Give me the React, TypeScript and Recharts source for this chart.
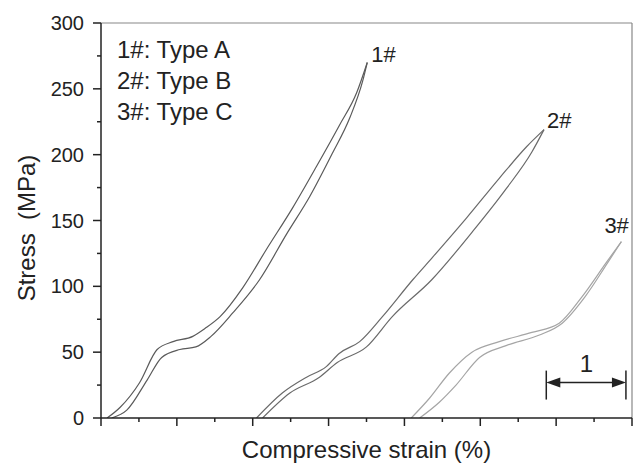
import React from "react";
import { LineChart, Line, XAxis, YAxis, ReferenceLine, ReferenceDot, Label } from "recharts";

// strain (%) , stress (MPa) pairs
const type1Upper = [[0.08, 0], [0.25, 8], [0.51, 27], [0.74, 52], [0.95, 58], [1.21, 62], [1.37, 68], [1.57, 77], [1.87, 99], [2.18, 128], [2.53, 160], [2.84, 191], [3.14, 222], [3.37, 247], [3.51, 270]];
const type1Lower = [[0.14, 0], [0.34, 6], [0.61, 29], [0.8, 46], [1.04, 52], [1.25, 54], [1.45, 62], [1.74, 80], [2.09, 105], [2.45, 140], [2.75, 168], [3.05, 201], [3.28, 228], [3.45, 256], [3.51, 270]];
const type2Upper = [[2.05, 0], [2.39, 19], [2.71, 31], [2.97, 39], [3.14, 49], [3.41, 58], [3.71, 77], [4.11, 105], [4.37, 122], [4.82, 152], [5.25, 182], [5.61, 206], [5.84, 219]];
const type2Lower = [[2.13, 0], [2.49, 19], [2.88, 31], [3.11, 42], [3.5, 54], [3.84, 77], [4.36, 105], [4.89, 141], [5.34, 174], [5.68, 202], [5.84, 219]];
const type3Upper = [[4.09, 0], [4.33, 15], [4.59, 34], [4.89, 50], [5.25, 58], [5.68, 65], [6.04, 72], [6.34, 92], [6.66, 118], [6.86, 134]];
const type3Lower = [[4.2, 0], [4.46, 12], [4.68, 25], [4.99, 46], [5.34, 55], [5.78, 63], [6.08, 72], [6.38, 92], [6.68, 118], [6.86, 134]];

const curveNames = ["1#", "2#", "3#"];
const legendLines = ["1#: Type A", "2#: Type B", "3#: Type C"];
const xTicks = [0, 0.5, 1, 1.5, 2, 2.5, 3, 3.5, 4, 4.5, 5, 5.5, 6, 6.5, 7];
const yTicks = [0, 25, 50, 75, 100, 125, 150, 175, 200, 225, 250, 275, 300];

const toRows = (pts: number[][]) => pts.map(([x, y]) => ({ x, y }));

const FONT = "'Liberation Sans', Arial, Helvetica, sans-serif";
const INK = "#222";

const XTick = (props: any) => {
  const { x, y, payload } = props;
  const major = Number.isInteger(payload.value);
  return <line x1={x} y1={y} x2={x} y2={y + (major ? 8 : 4)} stroke={INK} strokeWidth={1.5} />;
};

const YTick = (props: any) => {
  const { x, y, payload } = props;
  const major = payload.value % 50 === 0;
  return (
    <g>
      <line x1={x - (major ? 8 : 4)} y1={y} x2={x} y2={y} stroke={INK} strokeWidth={1.5} />
      {major && (
        <text x={x - 17} y={y} dy="0.35em" textAnchor="end" fontSize={20} fill={INK} fontFamily={FONT}>
          {payload.value}
        </text>
      )}
    </g>
  );
};

const Arrow = (props: any) => {
  const { x1, y1, x2, y2 } = props;
  const len = 14;
  const hw = 5;
  return (
    <g>
      <line x1={x1 + len - 2} y1={y1} x2={x2 - len + 2} y2={y2} stroke={INK} strokeWidth={1.5} />
      <polygon points={`${x1},${y1} ${x1 + len},${y1 - hw} ${x1 + len},${y1 + hw}`} fill={INK} />
      <polygon points={`${x2},${y2} ${x2 - len},${y2 - hw} ${x2 - len},${y2 + hw}`} fill={INK} />
    </g>
  );
};

const textDot = (txt: string, dx: number, dy: number, size: number) => (p: any) => (
  <text x={p.cx + dx} y={p.cy + dy} fontSize={size} fill={INK} fontFamily={FONT}>
    {txt}
  </text>
);

export default function App() {
  return (
    <div style={{ position: "absolute", left: 0, top: 0, width: 637, height: 464, background: "#fff" }}>
      <LineChart width={637} height={464} margin={{ top: 23, right: 5, left: 0, bottom: 0 }}>
        <XAxis
          dataKey="x"
          type="number"
          domain={[0, 7]}
          ticks={xTicks}
          interval={0}
          height={46}
          tickSize={0}
          tickMargin={0}
          tickLine={false}
          tick={<XTick />}
          axisLine={{ stroke: INK, strokeWidth: 1.5 }}
          allowDataOverflow
        >
          <Label value="Compressive strain (%)" position="insideBottom" offset={6} fontSize={24} fill={INK} fontFamily={FONT} />
        </XAxis>
        <YAxis
          type="number"
          domain={[0, 300]}
          ticks={yTicks}
          interval={0}
          width={101}
          tickSize={0}
          tickMargin={0}
          tickLine={false}
          tick={<YTick />}
          axisLine={{ stroke: INK, strokeWidth: 1.5 }}
          allowDataOverflow
        >
          <Label
            content={() => (
              <text transform="translate(27,228) rotate(-90)" textAnchor="middle" dy="0.35em" fontSize={24} fill={INK} fontFamily={FONT}>
                {"Stress\u00a0\u00a0(MPa)"}
              </text>
            )}
          />
        </YAxis>
        <ReferenceLine y={300} stroke="#888" strokeWidth={1.2} />
        <ReferenceLine x={7} stroke="#888" strokeWidth={1.2} />

        <Line data={toRows(type1Upper)} dataKey="y" type="monotone" stroke="#5a5a5a" strokeWidth={1.2} dot={false} activeDot={false} isAnimationActive={false} />
        <Line data={toRows(type1Lower)} dataKey="y" type="monotone" stroke="#5a5a5a" strokeWidth={1.2} dot={false} activeDot={false} isAnimationActive={false} />
        <Line data={toRows(type2Upper)} dataKey="y" type="monotone" stroke="#6a6a6a" strokeWidth={1.2} dot={false} activeDot={false} isAnimationActive={false} />
        <Line data={toRows(type2Lower)} dataKey="y" type="monotone" stroke="#6a6a6a" strokeWidth={1.2} dot={false} activeDot={false} isAnimationActive={false} />
        <Line data={toRows(type3Upper)} dataKey="y" type="monotone" stroke="#a5a5a5" strokeWidth={1.2} dot={false} activeDot={false} isAnimationActive={false} />
        <Line data={toRows(type3Lower)} dataKey="y" type="monotone" stroke="#a5a5a5" strokeWidth={1.2} dot={false} activeDot={false} isAnimationActive={false} />

        <ReferenceDot x={3.51} y={270} r={0} shape={textDot(curveNames[0], 4, -1, 22)} />
        <ReferenceDot x={5.84} y={219} r={0} shape={textDot(curveNames[1], 3, -2, 22)} />
        <ReferenceDot x={6.86} y={134} r={0} shape={textDot(curveNames[2], -17, -9, 22)} />

        {/* scale bar: 1 % strain */}
        <ReferenceLine segment={[{ x: 5.87, y: 14 }, { x: 5.87, y: 36 }]} stroke={INK} strokeWidth={1.5} />
        <ReferenceLine segment={[{ x: 6.92, y: 14 }, { x: 6.92, y: 36 }]} stroke={INK} strokeWidth={1.5} />
        <ReferenceLine segment={[{ x: 5.87, y: 27 }, { x: 6.92, y: 27 }]} shape={<Arrow />} />
        <ReferenceDot x={6.39} y={42} r={0} shape={textDot("1", -6, 9, 24)} />
      </LineChart>
      <div style={{ position: "absolute", left: 117, top: 34, fontFamily: FONT, fontSize: 24, lineHeight: "31px", color: INK }}>
        {legendLines.map((t) => (
          <div key={t}>{t}</div>
        ))}
      </div>
    </div>
  );
}
